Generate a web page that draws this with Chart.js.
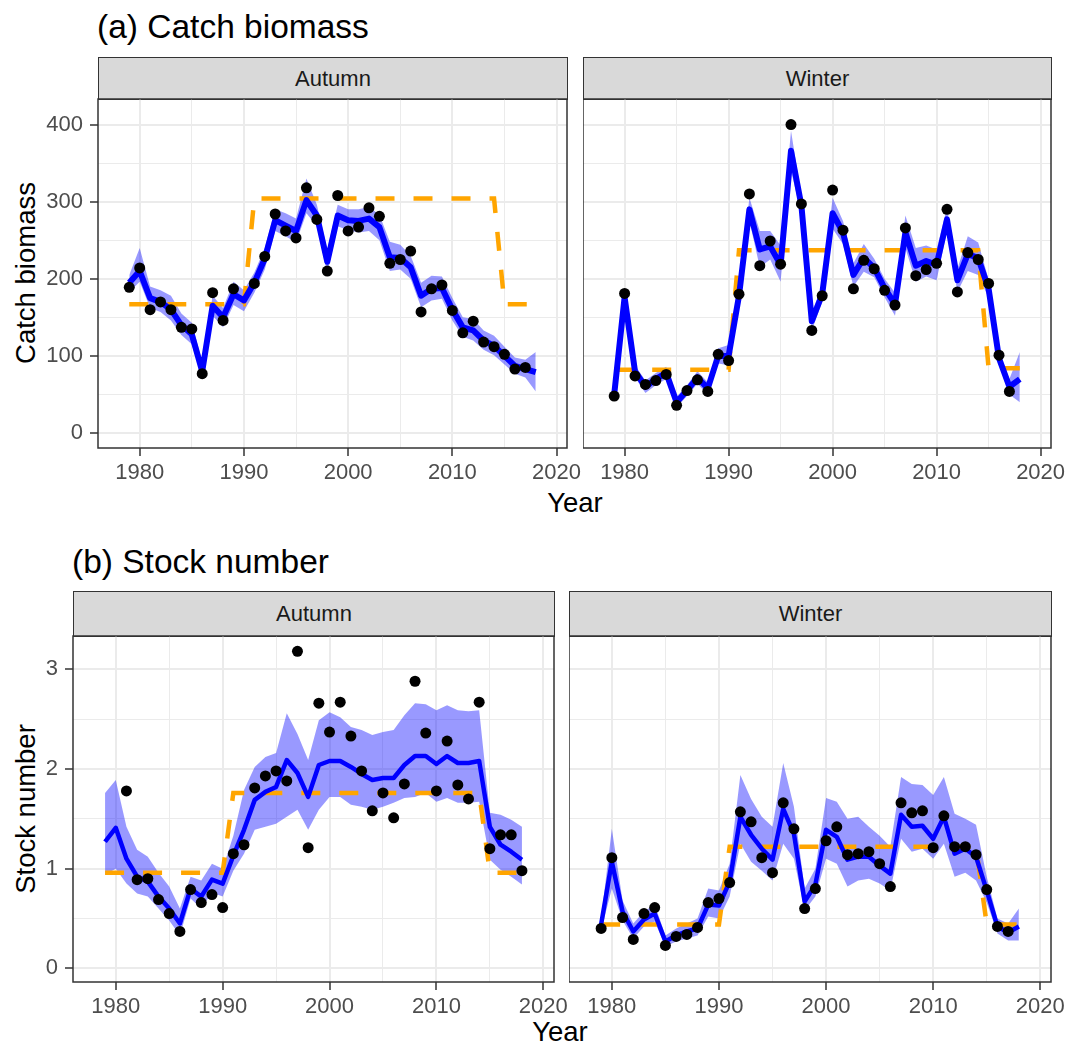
<!DOCTYPE html>
<html><head><meta charset="utf-8">
<script src="https://cdn.jsdelivr.net/npm/chart.js@4.4.1/dist/chart.umd.min.js"></script>
<style>
html,body{margin:0;padding:0;background:#fff;}
body{width:1069px;height:1047px;position:relative;overflow:hidden;font-family:"Liberation Sans",Arial,sans-serif;}
canvas{position:absolute;}
.t{position:absolute;white-space:nowrap;color:#000;line-height:1;}
.title{font-size:33.5px;transform:translateY(-50%);}
.axt{font-size:27.5px;transform:translate(-50%,-50%);}
.roty{font-size:27.5px;transform:translate(-50%,-50%) rotate(-90deg);}
.strip{position:absolute;box-sizing:border-box;background:#D9D9D9;border:1.5px solid #333;font-size:22px;color:#1A1A1A;display:flex;align-items:center;justify-content:center;}
</style></head>
<body>
<div class="t title" style="left:97px;top:27px;">(a) Catch biomass</div>
<div class="t title" style="left:72px;top:562px;">(b) Stock number</div>
<div class="strip" style="left:98px;top:57px;width:470px;height:43px;">Autumn</div>
<div class="strip" style="left:583px;top:57px;width:469px;height:43px;">Winter</div>
<div class="strip" style="left:73px;top:591px;width:482px;height:46px;">Autumn</div>
<div class="strip" style="left:569px;top:591px;width:483px;height:46px;">Winter</div>
<div class="t roty" style="left:26px;top:273px;">Catch biomass</div>
<div class="t roty" style="left:26px;top:809px;">Stock number</div>
<div class="t axt" style="left:575px;top:503px;">Year</div>
<div class="t axt" style="left:560px;top:1032px;">Year</div>
<canvas id="c1"></canvas>
<canvas id="c2"></canvas>
<canvas id="c3"></canvas>
<canvas id="c4"></canvas>
<script>
// ---- categories and tick labels ----
const years = [1979,1980,1981,1982,1983,1984,1985,1986,1987,1988,1989,1990,1991,1992,1993,1994,1995,1996,1997,1998,1999,2000,2001,2002,2003,2004,2005,2006,2007,2008,2009,2010,2011,2012,2013,2014,2015,2016,2017,2018];
const xTicks = [1980,1985,1990,1995,2000,2005,2010,2015,2020];
const catchTicks = [0,50,100,150,200,250,300,350,400];
const stockTicks = [0,0.5,1,1.5,2,2.5,3];

// ---- (a) Catch biomass, Autumn ----
const catchAutumnObs = [189,214,160,170,160,137,135,77,182,146,187,null,194,229,284,262,253,318,277,210,308,262,267,292,281,220,225,236,157,187,192,159,130,145,118,112,102,83,85,null];
const catchAutumnFit = [195,210,175,170,160,140,128,80,165,150,180,172,195,226,276,269,262,302,282,222,282,276,275,278,267,228,227,215,178,187,188,160,137,133,120,113,100,87,83,79];
const catchAutumnHi  = [205,240,190,185,178,155,143,92,178,162,196,185,208,240,290,285,278,330,296,238,296,290,290,293,283,248,244,230,195,204,203,175,150,148,133,126,112,98,95,105];
const catchAutumnLo  = [183,196,162,157,146,127,115,70,152,137,166,158,182,212,262,255,247,285,268,207,268,263,260,262,250,210,212,200,163,172,174,146,125,120,108,101,89,77,72,54];
const catchAutumnState = [167,167,167,167,167,167,167,167,167,167,167,167,304,304,304,304,304,304,304,304,304,304,304,304,304,304,304,304,304,304,304,304,304,304,304,304,167,167,167,167];

// ---- (a) Catch biomass, Winter ----
const catchWinterObs = [48,181,74,63,68,76,36,55,69,54,102,94,180,310,217,249,219,400,297,133,178,315,263,187,224,213,185,166,266,204,212,220,290,183,234,225,194,101,54,null];
const catchWinterFit = [50,176,80,60,70,78,40,55,72,58,100,100,178,290,238,242,218,366,295,145,180,285,260,205,227,214,188,167,260,217,223,218,277,198,232,227,187,97,60,70];
const catchWinterHi  = [56,186,88,68,78,86,47,62,80,66,110,114,188,305,262,262,243,392,307,157,190,305,275,220,245,226,200,182,282,240,243,238,292,213,255,247,199,105,70,105];
const catchWinterLo  = [44,166,72,52,62,70,33,48,64,50,90,88,168,275,215,225,196,340,283,133,170,265,245,190,209,202,176,152,240,196,203,198,262,183,210,205,175,89,50,40];
const catchWinterState = [82,82,82,82,82,82,82,82,82,82,82,82,237,237,237,237,237,237,237,237,237,237,237,237,237,237,237,237,237,237,237,237,237,237,237,237,84,84,84,84];

// ---- (b) Stock number, Autumn ----
const stockAutumnObs = [null,null,1.78,0.89,0.90,0.69,0.55,0.37,0.79,0.66,0.74,0.61,1.15,1.24,1.81,1.93,1.98,1.88,3.18,1.21,2.66,2.37,2.67,2.33,1.98,1.58,1.76,1.51,1.85,2.88,2.36,1.78,2.28,1.84,1.70,2.67,1.20,1.34,1.34,0.98];
const stockAutumnFit = [1.27,1.41,1.10,0.92,0.87,0.72,0.60,0.45,0.80,0.72,0.89,0.85,1.13,1.39,1.69,1.77,1.82,2.09,1.96,1.72,2.04,2.08,2.08,2.02,1.95,1.89,1.91,1.91,2.04,2.13,2.13,2.05,2.13,2.06,2.06,2.08,1.42,1.24,1.17,1.09];
const stockAutumnHi  = [1.76,1.89,1.42,1.19,1.12,0.96,0.82,0.60,0.92,0.88,1.05,1.00,1.33,1.79,2.02,2.12,2.16,2.56,2.35,2.09,2.49,2.57,2.52,2.42,2.39,2.34,2.37,2.39,2.54,2.66,2.65,2.59,2.64,2.59,2.58,2.59,1.56,1.54,1.49,1.42];
const stockAutumnLo  = [0.94,1.00,0.85,0.75,0.72,0.60,0.48,0.33,0.70,0.60,0.76,0.72,0.98,1.15,1.39,1.42,1.45,1.52,1.59,1.39,1.59,1.72,1.72,1.64,1.62,1.59,1.62,1.66,1.71,1.72,1.76,1.67,1.71,1.66,1.66,1.67,1.09,0.99,0.92,0.84];
const stockAutumnState = [0.96,0.96,0.96,0.96,0.96,0.96,0.96,0.96,0.96,0.96,0.96,0.96,1.76,1.76,1.76,1.76,1.76,1.76,1.76,1.76,1.76,1.76,1.76,1.76,1.76,1.76,1.76,1.76,1.76,1.76,1.76,1.76,1.76,1.76,1.76,1.76,0.96,0.96,0.96,0.96];

// ---- (b) Stock number, Winter ----
const stockWinterObs = [0.40,1.11,0.51,0.29,0.55,0.61,0.23,0.32,0.34,0.41,0.66,0.70,0.86,1.57,1.47,1.11,0.96,1.66,1.40,0.60,0.80,1.28,1.42,1.14,1.15,1.17,1.05,0.82,1.66,1.56,1.58,1.21,1.53,1.22,1.22,1.14,0.79,0.42,0.37,null];
const stockWinterFit = [0.44,1.07,0.57,0.37,0.49,0.55,0.27,0.33,0.37,0.40,0.64,0.63,0.87,1.52,1.34,1.20,1.09,1.60,1.35,0.67,0.84,1.39,1.32,1.09,1.12,1.12,1.03,0.95,1.54,1.42,1.43,1.30,1.52,1.15,1.20,1.12,0.78,0.42,0.36,0.42];
const stockWinterHi  = [0.50,1.40,0.68,0.45,0.57,0.64,0.33,0.40,0.45,0.50,0.80,0.78,1.05,1.94,1.70,1.52,1.42,2.06,1.62,0.80,1.00,1.71,1.67,1.50,1.52,1.42,1.33,1.22,1.92,1.85,1.84,1.74,1.92,1.55,1.50,1.44,0.92,0.50,0.45,0.60];
const stockWinterLo  = [0.38,0.80,0.48,0.30,0.42,0.47,0.22,0.27,0.30,0.33,0.52,0.50,0.72,1.25,1.07,0.98,0.88,1.25,1.10,0.58,0.72,1.10,1.05,0.82,0.88,0.90,0.85,0.78,1.30,1.17,1.20,1.10,1.25,0.92,0.96,0.88,0.66,0.35,0.28,0.28];
const stockWinterState = [0.44,0.44,0.44,0.44,0.44,0.44,0.44,0.44,0.44,0.44,0.44,0.44,1.22,1.22,1.22,1.22,1.22,1.22,1.22,1.22,1.22,1.22,1.22,1.22,1.22,1.22,1.22,1.22,1.22,1.22,1.22,1.22,1.22,1.22,1.22,1.22,0.44,0.44,0.44,0.44];

const FF = "'Liberation Sans', Arial, sans-serif";
Chart.defaults.font.family = FF;

const frame = {id:'frame', afterDraw(chart){
  const {ctx, chartArea:a} = chart;
  ctx.save(); ctx.strokeStyle = '#333'; ctx.lineWidth = 1.5;
  ctx.strokeRect(a.left, a.top, a.right - a.left, a.bottom - a.top);
  ctx.restore();
}};

function isMajor(v, step){ return Math.abs(v/step - Math.round(v/step)) < 1e-6; }

function mk(id, c){
  const el = document.getElementById(id);
  el.width = c.cw; el.height = c.ch;
  el.style.left = c.cx + 'px'; el.style.top = c.cy + 'px';
  const pts = a => years.map((x,i) => ({x:x, y:a[i]}));
  new Chart(el, {
    type:'line',
    data:{datasets:[
      {data:pts(c.obs), showLine:false, pointRadius:5.5, pointBackgroundColor:'#000', pointBorderWidth:0, borderWidth:0, order:0},
      {data:pts(c.fit), borderColor:'#0000FF', borderWidth:c.lw, pointRadius:0, borderJoinStyle:'round', fill:false, order:1},
      {data:pts(c.state), borderColor:'#FFA500', borderWidth:4.5, borderDash:[19,19], pointRadius:0, fill:false, order:2},
      {data:pts(c.hi), borderWidth:0, borderColor:'rgba(0,0,0,0)', pointRadius:0, backgroundColor:'rgba(0,0,255,0.4)', fill:'+1', order:3},
      {data:pts(c.lo), borderWidth:0, borderColor:'rgba(0,0,0,0)', pointRadius:0, fill:false, order:4}
    ]},
    options:{
      responsive:false, animation:false, events:[],
      layout:{autoPadding:false, padding:{top:1, left:0, bottom:0, right:c.pr}},
      plugins:{legend:{display:false}, tooltip:{enabled:false}},
      scales:{
        x:{type:'linear', min:1976, max:2021,
          afterBuildTicks: s => { s.ticks = xTicks.map(v => ({value:v})); },
          afterFit: s => { s.height = c.xh; s.paddingLeft = 0; s.paddingRight = 0; },
          grid:{color:'#EBEBEB', lineWidth: x => (x.tick && isMajor(x.tick.value,10)) ? 2 : 1,
            drawTicks:true, tickLength:8, tickWidth:1.5,
            tickColor: x => (x.tick && isMajor(x.tick.value,10)) ? '#333' : 'rgba(0,0,0,0)'},
          border:{display:false},
          ticks:{autoSkip:false, maxRotation:0, minRotation:0, color:'#4D4D4D', font:{size:22, family:FF}, padding:4,
            callback: v => isMajor(v,10) ? String(v) : ''}
        },
        y:{type:'linear', min:c.ymin, max:c.ymax,
          afterBuildTicks: s => { s.ticks = c.yticks.map(v => ({value:v})); },
          afterFit: s => { s.width = c.yw; s.paddingTop = 0; s.paddingBottom = 0; },
          grid:{color:'#EBEBEB', lineWidth: x => (x.tick && isMajor(x.tick.value,c.ystep)) ? 2 : 1,
            drawTicks:c.showY, tickLength:8, tickWidth:1.5,
            tickColor: x => (x.tick && isMajor(x.tick.value,c.ystep)) ? '#333' : 'rgba(0,0,0,0)'},
          border:{display:false},
          ticks:{display:c.showY, autoSkip:false, color:'#4D4D4D', font:{size:22, family:FF}, padding:7,
            callback: v => isMajor(v,c.ystep) ? String(v) : ''}
        }
      }
    },
    plugins:[frame]
  });
}

// panel (a) Autumn: plot area x 98-567, y 99-448
mk('c1', {cx:0, cy:98, cw:620, ch:400, pr:53, yw:98, xh:50, showY:true,
  ymin:-19.4, ymax:433.1, yticks:catchTicks, ystep:100, lw:6,
  obs:catchAutumnObs, fit:catchAutumnFit, hi:catchAutumnHi, lo:catchAutumnLo, state:catchAutumnState});
// panel (a) Winter: plot area x 583-1051
mk('c2', {cx:583, cy:98, cw:486, ch:400, pr:18, yw:0, xh:50, showY:false,
  ymin:-19.4, ymax:433.1, yticks:catchTicks, ystep:100, lw:6,
  obs:catchWinterObs, fit:catchWinterFit, hi:catchWinterHi, lo:catchWinterLo, state:catchWinterState});
// panel (b) Autumn: plot area x 73-554, y 636-982
mk('c3', {cx:0, cy:635, cw:620, ch:400, pr:66, yw:73, xh:53, showY:true,
  ymin:-0.137, ymax:3.334, yticks:stockTicks, ystep:1, lw:4.5,
  obs:stockAutumnObs, fit:stockAutumnFit, hi:stockAutumnHi, lo:stockAutumnLo, state:stockAutumnState});
// panel (b) Winter: plot area x 569-1051
mk('c4', {cx:569, cy:635, cw:500, ch:400, pr:18, yw:0, xh:53, showY:false,
  ymin:-0.137, ymax:3.334, yticks:stockTicks, ystep:1, lw:4.5,
  obs:stockWinterObs, fit:stockWinterFit, hi:stockWinterHi, lo:stockWinterLo, state:stockWinterState});
</script>
</body></html>
